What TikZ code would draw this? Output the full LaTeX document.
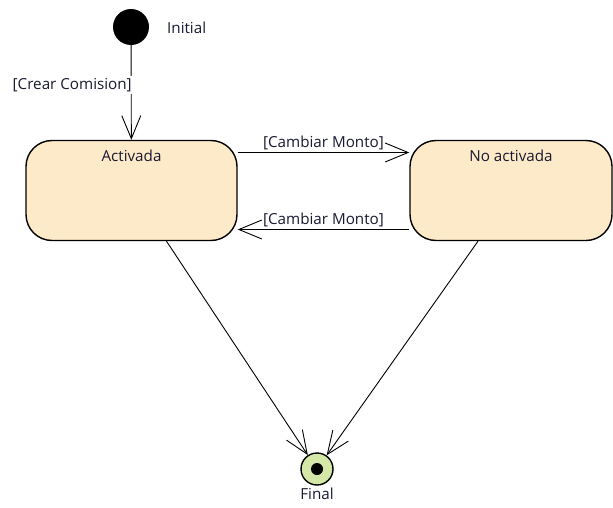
\documentclass[tikz,border=0pt]{standalone}
\usepackage{fontspec}
\setmainfont{Open Sans}
\usepackage{tikz}
\usetikzlibrary{arrows.meta}
\definecolor{statefill}{RGB}{253, 234, 200}
\definecolor{finalfill}{RGB}{214, 232, 168}
\definecolor{textdark}{RGB}{25, 25, 50}

\tikzset{
  state/.style={draw, line width=1.4, rounded corners=26, fill=statefill,
    minimum height=100},
  statename/.style={anchor=north, yshift=-7, text=textdark, font=\fontsize{15.2}{17}\selectfont},
  guard/.style={text=textdark, font=\fontsize{15.2}{17}\selectfont, inner sep=2},
  trans/.style={-{Straight Barb[length=23pt, width=19pt]}, line width=0.9}
}

\begin{document}
\begin{tikzpicture}[x=1pt, y=-1pt]

  \useasboundingbox (0, 0) rectangle (613, 508);

  % initial and final states
  \node[circle, fill=black, minimum size=36, inner sep=0] (init) at (131, 27) {};
  \node[guard, anchor=west] (initname) at (165, 28) {Initial};

  \node[circle, draw, line width=1.4, fill=finalfill, minimum size=32, inner sep=0] (fin) at (317, 469) {};
  \node[circle, fill=black, minimum size=12, inner sep=0] (findot) at (fin) {};
  \node[guard, anchor=north] (finname) at (317, 486) {Final};

  % the two states
  \node[state, minimum width=211, label={[statename]north:Activada}] (act) at (131.5, 190.5) {};
  \node[state, minimum width=202, label={[statename]north:No activada}] (noact) at (511, 190.5) {};

  % transitions
  \draw[trans] (init) -- (act)
    node[guard, pos=0.42, anchor=east, fill=white, xshift=3] (crear) {[Crear Comision]};

  \draw[trans] ([yshift=38]act.east) -- ([yshift=38]noact.west)
    node[guard, midway, anchor=south] (montoa) {[Cambiar Monto]};
  \draw[trans] ([yshift=-39]noact.west) -- ([yshift=-39]act.east)
    node[guard, midway, anchor=south] (montob) {[Cambiar Monto]};

  \draw[trans] ([xshift=35]act.south) -- (fin);
  \draw[trans] ([xshift=-33]noact.south) -- (fin);

\end{tikzpicture}
\end{document}
